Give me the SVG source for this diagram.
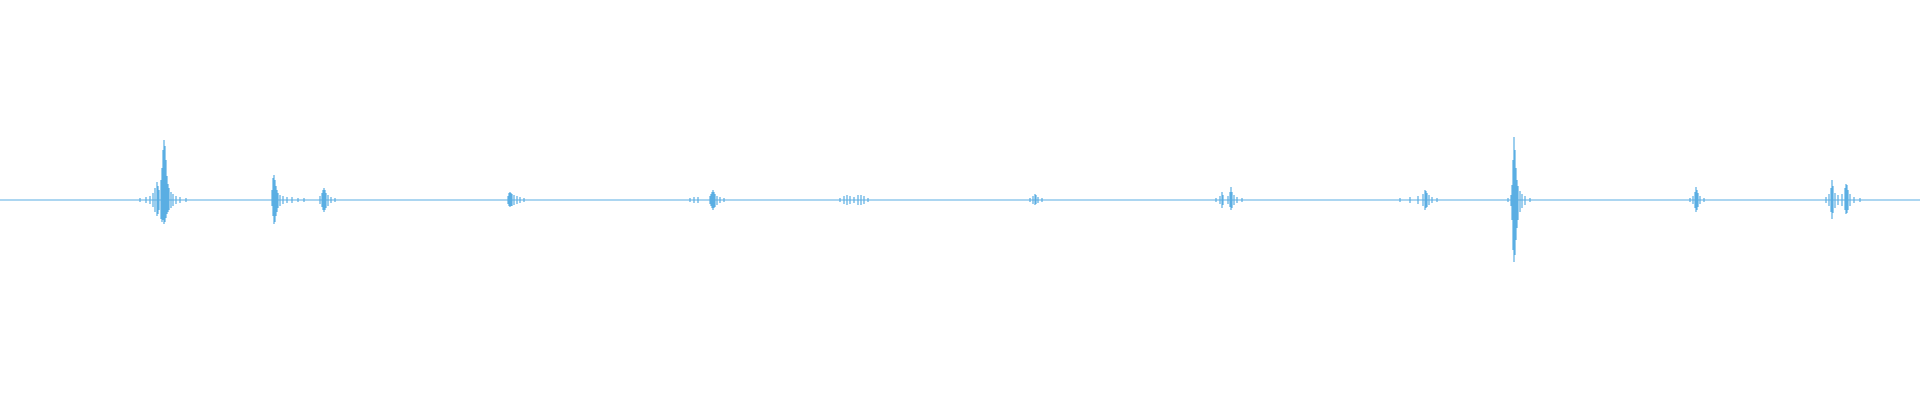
<svg xmlns="http://www.w3.org/2000/svg" width="1920" height="400" viewBox="0 0 1920 400">
<style>.w{stroke:#5aaee3;stroke-width:1.2;fill:none}</style>
<rect width="1920" height="400" fill="#fff"/>
<g id="waveform" class="w">
<path d="M0 200H1920"/>
<path id="b1" d="M140 198V202M146 197V203M150 196V204M153 193V207M155 188V212M157 182V216M158 186V214M159 190V210M161 180V219M162 168V222M163 150V220M164 140V224M165 146V222M166 160V218M167 176V214M168 184V212M169 188V210M171 192V208M173 194V206M176 196V204M180 197V203M186 198V202"/>
<path id="b2" d="M272 190V206M273 178V216M274 175V224M275 180V222M276 186V216M277 190V212M278 193V208M280 195V206M283 196V204M287 197V203M292 197V203M298 198V202M304 198V202M320 196V204M322 193V207M323 190V210M324 188V212M325 190V210M326 193V208M328 195V206M331 197V203M335 198V202"/>
<path id="b3" d="M508 196V204M509 193V206M510 192V207M511 193V206M512 194V206M514 195V205M517 196V204M520 197V203M524 198V202"/>
<path id="b4" d="M690 198V202M694 197V203M698 197V203M710 196V204M711 194V206M712 192V208M713 190V210M714 192V208M715 194V207M717 196V205M720 197V203M724 198V202"/>
<path id="b5" d="M840 198V202M844 196V204M847 195V205M850 196V204M854 197V203M858 195V205M861 195V205M864 196V204M868 198V202"/>
<path id="b6" d="M1030 198V202M1033 196V204M1035 194V205M1036 195V204M1038 197V203M1042 198V202"/>
<path id="b7" d="M1216 198V202M1220 196V204M1222 192V208M1223 195V205M1228 196V204M1230 192V207M1231 187V210M1232 192V208M1234 195V205M1237 197V203M1242 198V202"/>
<path id="b8" d="M1400 198V202M1410 197V203M1418 196V204M1423 194V206M1425 190V210M1426 191V208M1427 193V207M1429 195V205M1432 197V203M1437 198V202"/>
<path id="b9" d="M1508 198V202M1511 195V206M1512 185V220M1513 160V250M1514 137V262M1515 150V255M1516 168V240M1517 180V228M1518 186V220M1520 191V212M1522 194V208M1525 196V205M1530 198V202"/>
<path id="b10" d="M1690 198V202M1693 196V204M1695 192V208M1696 187V212M1697 190V210M1698 193V207M1700 196V204M1704 198V202"/>
<path id="b11" d="M1826 197V203M1829 194V206M1831 188V212M1832 180V219M1833 186V213M1835 193V208M1838 195V205M1842 194V206M1845 188V210M1846 184V214M1847 185V213M1848 190V210M1850 194V206M1854 197V203M1860 198V202"/>
</g>
</svg>
